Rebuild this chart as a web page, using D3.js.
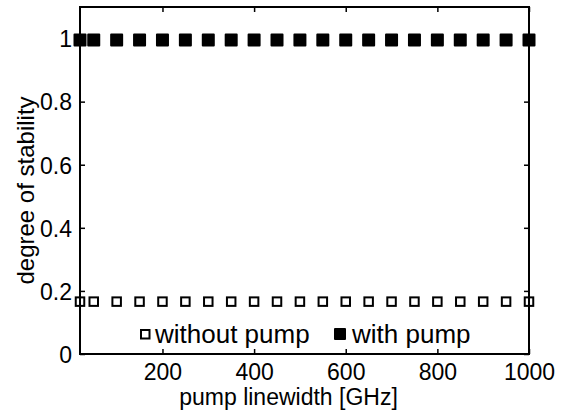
<!DOCTYPE html>
<html><head><meta charset="utf-8">
<script src="https://cdn.jsdelivr.net/npm/d3@7"></script>
<style>body{margin:0;background:#fff}svg{display:block}text{font-family:"Liberation Sans",Arial,sans-serif;fill:#000}</style>
</head><body>
<svg id="c" width="561" height="412"></svg>
<script>
const xValues = [20, 50, 100, 150, 200, 250, 300, 350, 400, 450, 500, 550, 600, 650, 700, 750, 800, 850, 900, 950, 1000];
const withoutPump = [0.166, 0.166, 0.166, 0.166, 0.166, 0.166, 0.166, 0.166, 0.166, 0.166, 0.166, 0.166, 0.166, 0.166, 0.166, 0.166, 0.166, 0.166, 0.166, 0.166, 0.166];
const withPump = [0.995, 0.995, 0.995, 0.995, 0.995, 0.995, 0.995, 0.995, 0.995, 0.995, 0.995, 0.995, 0.995, 0.995, 0.995, 0.995, 0.995, 0.995, 0.995, 0.995, 0.995];
const xTicks = [200, 400, 600, 800, 1000];
const yTicks = [0, 0.2, 0.4, 0.6, 0.8, 1];
const legendLabels = ["without pump", "with pump"];

const svg = d3.select("#c");
const L = 80, R = 529, T = 7, B = 354;
const x = d3.scaleLinear().domain([20, 1000]).range([L, R]);
const y = d3.scaleLinear().domain([0, 1.1]).range([B, T]);
const fs = 23;

// axes
const gx = svg.append("g").attr("transform", `translate(0,${B})`)
  .call(d3.axisBottom(x).tickValues(xTicks).tickSizeInner(-5).tickSizeOuter(0).tickPadding(10).tickFormat(d3.format("d")));
const gxt = svg.append("g").attr("transform", `translate(0,${T})`)
  .call(d3.axisTop(x).tickValues(xTicks).tickSizeInner(-5).tickSizeOuter(0).tickFormat(""));
const gy = svg.append("g").attr("transform", `translate(${L},0)`)
  .call(d3.axisLeft(y).tickValues(yTicks).tickSizeInner(-5).tickSizeOuter(0).tickPadding(8).tickFormat(d => d === 0 ? "0" : d === 1 ? "1" : d3.format(".1f")(d)));
const gyr = svg.append("g").attr("transform", `translate(${R},0)`)
  .call(d3.axisRight(y).tickValues(yTicks).tickSizeInner(-5).tickSizeOuter(0).tickFormat(""));
[gx, gxt, gy, gyr].forEach(g => {
  g.select(".domain").remove();
  g.selectAll(".tick line").attr("stroke", "#000").attr("stroke-width", 1.5);
  g.selectAll("text").style("font-size", fs + "px").attr("fill", "#000");
});
gy.selectAll("text").attr("dy", "0.36em");
// box
svg.append("rect").attr("x", L).attr("y", T).attr("width", R - L).attr("height", B - T)
  .attr("fill", "none").attr("stroke", "#000").attr("stroke-width", 2);

// data
svg.append("g").selectAll("rect").data(xValues.map((d, i) => [d, withoutPump[i]])).join("rect")
  .attr("x", d => x(d[0]) - 4.25).attr("y", d => y(d[1]) - 4.25)
  .attr("width", 8.5).attr("height", 8.5)
  .attr("fill", "none").attr("stroke", "#000").attr("stroke-width", 2);
svg.append("g").selectAll("rect").data(xValues.map((d, i) => [d, withPump[i]])).join("rect")
  .attr("x", d => x(d[0]) - 5.5).attr("y", d => y(d[1]) - 5.5)
  .attr("width", 11).attr("height", 11)
  .attr("fill", "#000").attr("stroke", "#000").attr("stroke-width", 2).attr("stroke-linejoin", "round");

// legend
const lfs = 26;
const lg = svg.append("g");
lg.append("rect").attr("x", 141).attr("y", 330).attr("width", 8.5).attr("height", 8.5)
  .attr("fill", "none").attr("stroke", "#000").attr("stroke-width", 2);
lg.append("text").attr("x", 155).attr("y", 343).style("font-size", lfs + "px").text(legendLabels[0]);
lg.append("rect").attr("x", 335).attr("y", 329).attr("width", 10).attr("height", 10)
  .attr("fill", "#000").attr("stroke", "#000").attr("stroke-width", 2).attr("stroke-linejoin", "round");
lg.append("text").attr("x", 352).attr("y", 343).style("font-size", lfs + "px").text(legendLabels[1]);

// labels
svg.append("text").attr("x", (L + R) / 2 - 16).attr("y", 405).attr("text-anchor", "middle")
  .style("font-size", fs + "px").text("pump linewidth [GHz]");
svg.append("text").attr("transform", `translate(34,${(T + B) / 2 + 10}) rotate(-90)`).attr("text-anchor", "middle")
  .style("font-size", "24px").text("degree of stability");
</script>
</body></html>
